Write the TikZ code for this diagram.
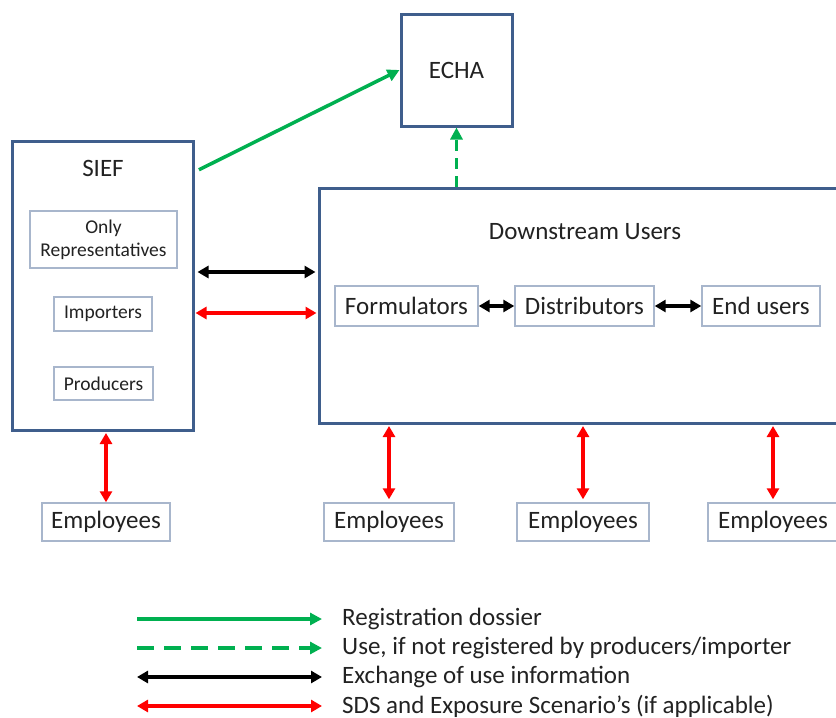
\documentclass[tikz,border=0pt]{standalone}
\usepackage{fontspec}
\setmainfont{Carlito}
\usetikzlibrary{arrows.meta,calc}
\definecolor{boxblue}{HTML}{3F5E8C}
\definecolor{inbox}{HTML}{A8B6CC}
\definecolor{regg}{HTML}{00B050}
\definecolor{sdsred}{HTML}{FF0000}
\definecolor{txt}{HTML}{222222}
\begin{document}
\begin{tikzpicture}[x=1pt,y=-1pt,
  bigbox/.style={draw=boxblue, line width=3pt, fill=white, inner sep=0pt, text=txt, font=\fontsize{25}{29}\selectfont},
  smallbox/.style={draw=inbox, line width=1.4pt, fill=white, inner sep=0pt, text=txt, align=center, font=\fontsize{19.5}{23}\selectfont},
  midbox/.style={draw=inbox, line width=1.4pt, fill=white, inner sep=0pt, text=txt, font=\fontsize{25}{29}\selectfont},
  lbl/.style={inner sep=0pt, text=txt, font=\fontsize{25}{29}\selectfont},
  regarrow/.style={draw=regg, line width=3.5pt, -{Triangle[length=12pt,width=12pt]}},
  usearrow/.style={regarrow, dash pattern=on 11pt off 7pt},
  usearrowleg/.style={regarrow, dash pattern=on 17pt off 10pt},
  exarrow/.style={draw=black, line width=3.5pt, {Triangle[length=11pt,width=12pt]}-{Triangle[length=11pt,width=12pt]}},
  sdsarrow/.style={draw=sdsred, line width=3.3pt, {Triangle[length=11pt,width=12pt]}-{Triangle[length=11pt,width=12pt]}}
]
\useasboundingbox (0,0) rectangle (836,718);

% SIEF
\node[bigbox, minimum width=181pt, minimum height=289pt] (sief) at (102.5,285.5) {};
\node[lbl] (sieft) at (103,168) {SIEF};
\node[smallbox, minimum width=147pt, minimum height=57pt] (orep) at (103.5,239.5) {Only\\Representatives};
\node[smallbox, minimum width=98pt, minimum height=34pt] (imp) at (103,314) {Importers};
\node[smallbox, minimum width=99pt, minimum height=33pt] (prod) at (103.5,383.5) {Producers};

% ECHA
\node[bigbox, minimum width=111pt, minimum height=112pt] (echa) at (456.5,70) {ECHA};

% Downstream users
\node[bigbox, minimum width=531pt, minimum height=235pt] (du) at (584.5,305.5) {};
\node[lbl] (dut) at (585,232) {Downstream Users};
\node[midbox, minimum width=143pt, minimum height=40pt] (form) at (406.5,306) {Formulators};
\node[midbox, minimum width=139pt, minimum height=40pt] (dist) at (584.5,306) {Distributors};
\node[midbox, minimum width=118pt, minimum height=40pt] (endu) at (761,306) {End users};

% Employees
\node[midbox, minimum width=128pt, minimum height=38pt] (emp1) at (106,522) {Employees};
\node[midbox, minimum width=130pt, minimum height=38pt] (emp2) at (389,522) {Employees};
\node[midbox, minimum width=132pt, minimum height=38pt] (emp3) at (583,522) {Employees};
\node[midbox, minimum width=130pt, minimum height=38pt] (emp4) at (773,522) {Employees};

% level coordinates
\coordinate (yg) at (0,172);
\coordinate (yb) at (0,272);
\coordinate (yr) at (0,313);

% connectors
\draw[regarrow, shorten <=5pt] (sief.east |- yg) -- (echa.west);
\draw[usearrow] (echa.south |- du.north) -- (echa.south);
\draw[exarrow, shorten <=3pt, shorten >=2pt] (sief.east |- yb) -- (du.west |- yb);
\draw[sdsarrow, shorten <=1pt, shorten >=1pt] (sief.east |- yr) -- (du.west |- yr);
\draw[exarrow] (form.east) -- (dist.west);
\draw[exarrow] (dist.east) -- (endu.west);
\draw[sdsarrow, shorten >=1.5pt] (emp1.north) -- (emp1.north |- sief.south);
\draw[sdsarrow, shorten <=3pt, shorten >=1.5pt] (emp2.north) -- (emp2.north |- du.south);
\draw[sdsarrow, shorten <=3pt, shorten >=1.5pt] (emp3.north) -- (emp3.north |- du.south);
\draw[sdsarrow, shorten <=3pt, shorten >=1.5pt] (emp4.north) -- (emp4.north |- du.south);

% legend
\coordinate (la1) at (137,619); \coordinate (lb1) at (322,619);
\coordinate (la2) at (137,648); \coordinate (lb2) at (322,648);
\coordinate (la3) at (137,677); \coordinate (lb3) at (322,677);
\coordinate (la4) at (137,706); \coordinate (lb4) at (322,706);
\draw[regarrow] (la1) -- (lb1);
\draw[usearrowleg] (la2) -- (lb2);
\draw[exarrow] (la3) -- (lb3);
\draw[sdsarrow] (la4) -- (lb4);
\node[lbl, anchor=west] (lt1) at (342,619) {Registration dossier};
\node[lbl, anchor=west] (lt2) at (342,648) {Use, if not registered by producers/importer};
\node[lbl, anchor=west] (lt3) at (342,677) {Exchange of use information};
\node[lbl, anchor=west] (lt4) at (342,706) {SDS and Exposure Scenario’s (if applicable)};
\end{tikzpicture}
\end{document}
